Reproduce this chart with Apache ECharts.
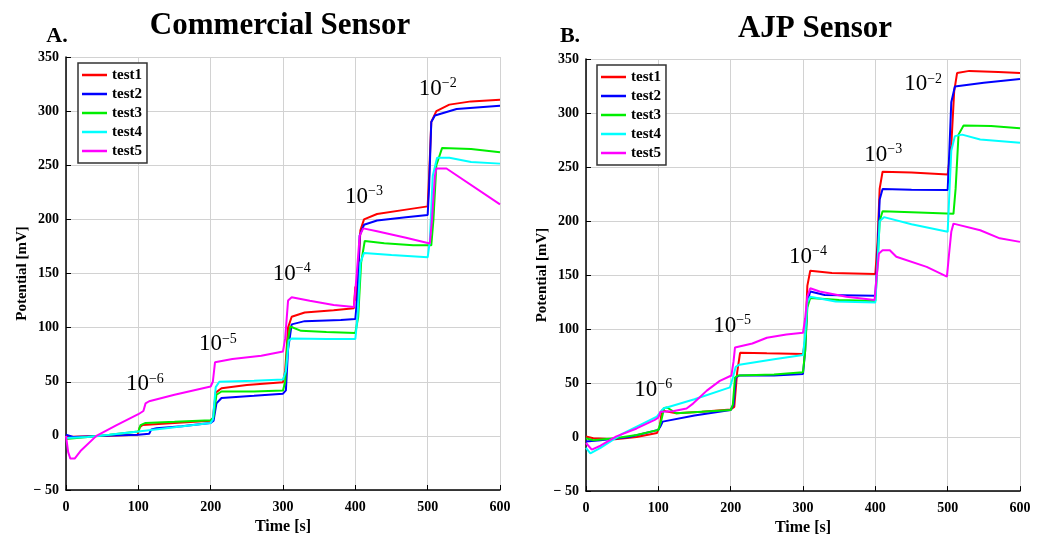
<!DOCTYPE html>
<html><head><meta charset="utf-8">
<script src="https://cdn.jsdelivr.net/npm/echarts@6/dist/echarts.min.js"></script>
<style>html,body{margin:0;padding:0;background:#fff}#c{width:1045px;height:541px}</style>
</head><body><div id="c"></div>
<script>
// ---------- DATA ----------
const seriesNames = ['test1','test2','test3','test4','test5'];
const seriesColors = ['#ff0000','#0000ff','#00ee00','#00ffff','#ff00ff'];
const xTicks = [0,100,200,300,400,500,600];
const yTicks = [-50,0,50,100,150,200,250,300,350];

// Panel A: Commercial Sensor  [time s, potential mV]
const A_test1 = [[0,-1],[20,-0.5],[60,0],[99,1],[102,8],[106,10],[150,12],[200,14],[203,16],[207,40],[215,44],[250,47],[300,49.6],[303,60],[307,100],[312,110],[330,114],[370,116],[398,118],[400,138],[401,125],[404,150],[407,190],[412,200],[430,205],[470,209],[500,212],[502,240],[505,290],[512,300],[530,306],[560,309],[600,310.5]];
const A_test2 = [[0,1],[10,-1],[50,0],[100,1],[115,2],[118,6],[125,7],[160,9],[200,12],[204,14],[208,30],[215,35],[260,37],[300,39],[304,42],[307,80],[312,103],[330,106],[380,107],[400,108],[403,130],[406,185],[412,195],[430,199],[470,202],[500,204],[502,230],[505,290],[510,296],[540,302],[600,305]];
const A_test3 = [[0,-3],[30,-1],[60,1],[100,4],[103,10],[110,12],[150,13],[200,14.5],[204,17],[208,38],[215,41],[260,41],[300,42],[303,50],[306,85],[310,101],[325,97],[360,96],[400,95],[404,110],[408,160],[413,180],[440,178],[480,176],[505,176],[508,200],[512,250],[520,266],[560,265],[600,262]];
const A_test4 = [[0,-2],[30,-1],[60,1],[100,4],[150,8],[200,12],[203,15],[207,45],[212,50],[260,51],[300,52],[304,60],[308,88],[312,90],[360,89.5],[400,89.5],[403,110],[407,160],[412,169],[450,167],[500,165],[503,180],[507,240],[513,257],[530,257],[560,253],[600,251.5]];
const A_test5 = [[0,0],[3,-15],[6,-21],[12,-21],[20,-14],[42,0],[70,10],[100,20],[107,23],[110,30],[115,32],[150,38],[200,45.6],[203,50],[206,68],[230,71],[270,74],[300,78],[303,90],[307,125],[312,128],[337,124.8],[370,121],[398,119],[402,150],[406,185],[411,191.7],[430,189],[470,183],[503,177.7],[506,200],[510,240],[512,247],[526,247],[600,213.8]];
// Panel B: AJP Sensor
const B_test1 = [[0,0.5],[10,-1],[40,-2],[70,0],[98,3.7],[102,10],[105,25],[110,24],[125,22],[160,23.5],[200,25.6],[205,28],[209,60],[213,78],[250,77.5],[300,77],[303,90],[306,140],[310,154],[340,152],[400,151],[403,180],[406,230],[410,245.6],[450,245],[500,243],[505,270],[509,320],[513,337],[530,339],[570,338],[600,337]];
const B_test2 = [[0,-4],[20,-3],[60,0],[100,6.7],[103,10],[106,14.3],[150,20],[200,25],[204,30],[207,55],[212,57],[260,57],[300,58.5],[303,80],[306,125],[310,134.8],[330,131.5],[400,130.8],[403,170],[406,220],[410,229.7],[450,229],[500,228.7],[502,260],[505,310],[510,324.5],[550,328],[600,331.5]];
const B_test3 = [[0,-1],[10,-3],[40,-1],[70,2],[100,6.7],[104,15],[108,27],[112,27.4],[125,22],[160,23.5],[200,25],[203,30],[206,55],[210,57],[260,58],[300,60],[303,80],[306,120],[310,128.7],[350,127],[400,126],[403,160],[406,200],[410,209],[460,208],[508,206.7],[511,230],[515,280],[522,288.4],[560,288],[600,286]];
const B_test4 = [[0,-10],[6,-15],[20,-10],[50,3],[98,19],[107,26.5],[150,35],[199,46],[203,55],[207,65],[212,67],[260,72],[300,76],[303,95],[306,125],[310,130],[345,125.6],[400,124.7],[403,160],[406,200],[412,203.6],[450,197],[500,190],[502,220],[505,265],[510,278.6],[520,280],[545,275.5],[600,272.5]];
const B_test5 = [[0,-5.5],[8,-11.6],[20,-8],[42,0.6],[70,8],[95,16],[100,18],[103,23.5],[120,24],[139,26.5],[148,31],[167,43],[185,52],[201,57],[204,70],[206,83],[230,86.6],[250,92],[277,95],[300,96.6],[303,110],[306,130],[310,137.8],[323,134.8],[360,130],[399,127],[402,150],[405,170],[410,173],[420,173],[429,167],[471,157.6],[499,148.5],[502,170],[505,190],[508,197.6],[545,191.5],[572,184],[600,180.7]];

// concentration annotations [time, potential, exponent]
const A_notes = [[109,48,'−6'],[210,85,'−5'],[312,150,'−4'],[412,221,'−3'],[514,321,'−2']];
const B_notes = [[93,44,'−6'],[202,103,'−5'],[307,167,'−4'],[411,262,'−3'],[466,327,'−2']];

const panelTitles = ['Commercial Sensor','AJP Sensor'];
const panelLetters = ['A.','B.'];
const xName = 'Time [s]';
const yName = 'Potential [mV]';

// ---------- CHART ----------
const SERIF = '"Liberation Serif","Times New Roman",serif';
const chart = echarts.init(document.getElementById('c'));

function xAxis(gi){
  return {gridIndex:gi,type:'value',min:0,max:600,interval:100,
    name:xName,nameLocation:'middle',nameGap:27,
    nameTextStyle:{fontFamily:SERIF,fontWeight:'bold',fontSize:16,color:'#000'},
    axisLine:{onZero:false,lineStyle:{color:'#000',width:1.5}},
    axisTick:{inside:true,length:5,lineStyle:{color:'#000'}},
    axisLabel:{fontFamily:SERIF,fontWeight:'bold',fontSize:14,color:'#000',margin:10},
    splitLine:{show:true,lineStyle:{color:'#d2d2d2',width:1}}};
}
function yAxis(gi){
  return {gridIndex:gi,type:'value',min:-50,max:350,interval:50,
    name:yName,nameLocation:'middle',nameGap:26,nameRotate:90,
    nameTextStyle:{fontFamily:SERIF,fontWeight:'bold',fontSize:15,color:'#000'},
    axisLine:{show:true,lineStyle:{color:'#000',width:1.5}},
    axisTick:{show:true,inside:true,length:5,lineStyle:{color:'#000'}},
    axisLabel:{fontFamily:SERIF,fontWeight:'bold',fontSize:14,color:'#000',margin:7,
      formatter:v=> v<0 ? '− '+Math.abs(v) : String(v)},
    splitLine:{show:true,lineStyle:{color:'#d2d2d2',width:1}}};
}
function legend(left,top){
  return {left:left,top:top,orient:'vertical',data:seriesNames,icon:'rect',
    itemWidth:25,itemHeight:2.5,itemGap:3,padding:[4,5,4,4],
    borderColor:'#333',borderWidth:1.5,backgroundColor:'#fff',
    textStyle:{fontFamily:SERIF,fontWeight:'bold',fontSize:15,color:'#000',lineHeight:16},
    selectedMode:false};
}
const dataA=[A_test1,A_test2,A_test3,A_test4,A_test5];
const dataB=[B_test1,B_test2,B_test3,B_test4,B_test5];
const series=[];
[dataA,dataB].forEach((set,gi)=>{
  set.forEach((d,i)=>{
    series.push({type:'line',name:seriesNames[i],xAxisIndex:gi,yAxisIndex:gi,data:d,
      showSymbol:false,symbol:'none',color:seriesColors[i],
      lineStyle:{width:2,color:seriesColors[i]},animation:false,z:3});
  });
});
[A_notes,B_notes].forEach((notes,gi)=>{
  series.push({type:'scatter',name:'notes'+gi,xAxisIndex:gi,yAxisIndex:gi,data:notes,
    symbolSize:1,itemStyle:{color:'#ffffff',opacity:1},animation:false,silent:true,z:1,
    emphasis:{disabled:true},
    label:{show:true,position:'inside',color:'#000',opacity:1,textBorderWidth:0,
      formatter:p=>'{b|10}{s|'+p.value[2]+'}',
      rich:{b:{fontFamily:SERIF,fontSize:23,color:'#000',lineHeight:24,verticalAlign:'bottom',textBorderWidth:0},
            s:{fontFamily:SERIF,fontSize:14,color:'#000',lineHeight:14,verticalAlign:'top',textBorderWidth:0}}}});
});

chart.setOption({
  backgroundColor:'#fff',
  animation:false,
  grid:[{left:66,top:57,width:434,height:433},{left:586,top:59,width:434,height:434}],
  xAxis:[xAxis(0),xAxis(1)],
  yAxis:[yAxis(0),yAxis(1)],
  legend:[legend(78,63),legend(597,65)],
  series:series,
  graphic:[
    {type:'text',style:{text:panelLetters[0],x:57,y:36,textAlign:'center',textVerticalAlign:'middle',font:'bold 22px '+SERIF,fill:'#000'}},
    {type:'text',style:{text:panelTitles[0],x:280,y:26,textAlign:'center',textVerticalAlign:'middle',font:'bold 31px '+SERIF,fill:'#000'}},
    {type:'text',style:{text:panelLetters[1],x:570,y:36,textAlign:'center',textVerticalAlign:'middle',font:'bold 22px '+SERIF,fill:'#000'}},
    {type:'text',style:{text:panelTitles[1],x:815,y:29,textAlign:'center',textVerticalAlign:'middle',font:'bold 31px '+SERIF,fill:'#000'}}
  ]
});
</script></body></html>
